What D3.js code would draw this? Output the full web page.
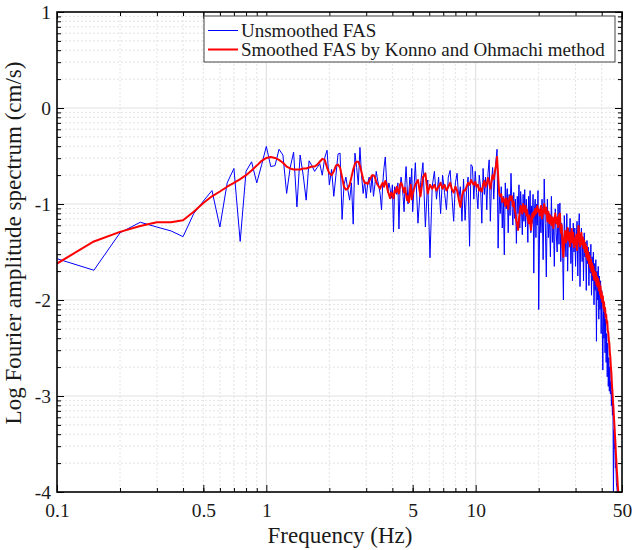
<!DOCTYPE html>
<html>
<head>
<meta charset="utf-8">
<script src="https://cdn.jsdelivr.net/npm/d3@7"></script>
<style>
  body { margin: 0; background: #fff; }
  svg, svg text { font-family: "Liberation Serif", "Times New Roman", serif; }
</style>
</head>
<body>
<svg id="chart" width="634" height="550"></svg>
<script>
// FFT bins are read in three stretches, each with its own spacing (Hz)
const freqStartA = 0.10, freqStepA = 0.05;   // 0.10 .. 4.95
const freqStartB = 5.00, freqStepB = 0.15;   // 5.00 .. 19.85
const freqStartC = 20.00, freqStepC = 0.25;  // 20.00 .. 48.00

// log10 of Fourier amplitude (cm/s)
const unsmoothedA = [
  -1.57, -1.69, -1.30, -1.19, -1.24, -1.28, -1.34, -1.10, -0.97, -0.86,
  -1.24, -0.78, -0.63, -1.39, -0.66, -0.56, -0.78, -0.59, -0.40, -0.61,
  -0.60, -0.43, -0.49, -0.89, -0.62, -0.46, -1.03, -0.49, -0.70, -0.96,
  -0.55, -0.60, -0.66, -0.62, -0.58, -0.70, -0.52, -0.44, -0.80, -0.64,
  -0.92, -0.70, -0.48, -0.47, -1.16, -0.80, -0.72, -0.85, -0.96, -0.78,
  -1.21, -0.47, -0.62, -0.80, -0.41, -0.70, -0.89, -0.76, -0.94, -0.78,
  -0.72, -0.88, -0.70, -0.92, -0.80, -0.66, -0.75, -0.82, -0.90, -1.06,
  -0.78, -0.62, -0.51, -0.75, -0.88, -0.78, -0.84, -0.94, -0.80, -1.29,
  -0.82, -0.86, -0.90, -0.78, -1.26, -0.85, -0.72, -0.80, -0.92, -1.08,
  -0.78, -0.61, -0.80, -1.00, -0.86, -0.72, -0.83, -0.63
];
const unsmoothedB = [
  -1.08, -0.57, -1.20, -0.80, -0.57, -1.24, -0.75, -1.56, -0.82, -0.66,
  -0.95, -0.72, -1.10, -0.70, -0.88, -1.06, -0.72, -0.65, -0.92, -1.18,
  -0.78, -0.68, -0.95, -0.82, -1.18, -0.74, -1.17, -0.86, -0.72, -1.44,
  -0.59, -0.61, -0.95, -0.66, -0.88, -1.05, -0.70, -0.82, -1.20, -0.63,
  -0.90, -0.72, -1.06, -0.68, -0.54, -1.18, -0.78, -0.62, -0.95, -0.70,
  -0.55, -0.43, -1.46, -0.90, -1.10, -0.82, -1.25, -0.92, -1.53, -0.78,
  -1.05, -0.84, -1.30, -0.90, -1.12, -0.68, -1.00, -1.22, -0.88, -1.15,
  -0.95, -1.41, -0.92, -1.10, -0.80, -1.25, -0.87, -1.05, -1.32, -0.90,
  -1.18, -0.85, -1.24, -0.95, -1.10, -1.40, -0.92, -1.15, -0.86, -1.30,
  -1.02, -1.20, -0.90, -1.72, -1.05, -0.95, -1.35, -1.00, -1.22, -0.86
];
const unsmoothedC = [
  -2.10, -1.05, -1.30, -0.95, -1.58, -0.74, -1.20, -1.76, -0.95, -1.35,
  -1.10, -1.55, -0.92, -1.40, -1.15, -1.65, -1.05, -1.30, -1.50, -1.00,
  -1.42, -0.99, -1.60, -1.20, -1.45, -2.00, -1.12, -1.35, -1.55, -1.10,
  -1.70, -1.25, -1.45, -1.15, -1.62, -1.30, -1.80, -1.20, -1.50, -1.25,
  -1.65, -1.35, -1.18, -1.75, -1.30, -1.10, -1.86, -1.40, -1.25, -1.60,
  -1.35, -1.80, -1.30, -1.55, -1.40, -1.90, -1.38, -1.62, -1.45, -1.85,
  -1.50, -1.72, -1.42, -1.95, -1.55, -1.80, -1.50, -2.05, -1.62, -1.90,
  -1.58, -2.43, -1.70, -2.00, -1.65, -2.20, -1.75, -2.10, -1.80, -2.35,
  -1.90, -2.25, -2.73, -2.00, -2.40, -2.10, -2.55, -2.20, -2.65, -2.35,
  -2.80, -2.45, -2.90, -2.60, -2.95, -2.70, -2.98, -2.85, -3.10, -2.95,
  -3.20, -3.05, -4.00, -3.35, -3.55, -3.50, -3.75, -3.70, -3.90, -3.95,
  -4.00
];

const smoothedA = [
  -1.62, -1.39, -1.29, -1.23, -1.19, -1.19, -1.17, -1.08, -0.99, -0.92,
  -0.87, -0.82, -0.78, -0.74, -0.70, -0.65, -0.60, -0.55, -0.52, -0.51,
  -0.52, -0.54, -0.57, -0.61, -0.63, -0.64, -0.64, -0.64, -0.63, -0.63,
  -0.62, -0.61, -0.61, -0.59, -0.56, -0.53, -0.54, -0.62, -0.68, -0.70,
  -0.66, -0.60, -0.59, -0.62, -0.72, -0.82, -0.85, -0.84, -0.80, -0.72,
  -0.64, -0.58, -0.56, -0.56, -0.60, -0.67, -0.74, -0.78, -0.78, -0.79,
  -0.76, -0.73, -0.70, -0.70, -0.72, -0.77, -0.80, -0.82, -0.84, -0.80,
  -0.78, -0.82, -0.76, -0.79, -0.86, -0.90, -0.94, -0.88, -0.90, -0.94,
  -0.86, -0.88, -0.82, -0.86, -0.89, -0.80, -0.78, -0.80, -0.84, -0.88,
  -0.83, -0.90, -0.96, -0.92, -0.98, -0.88, -0.80, -0.95
];
const smoothedB = [
  -0.89, -0.80, -0.75, -0.92, -0.72, -0.68, -0.89, -0.80, -0.84, -0.80,
  -0.86, -0.82, -0.78, -0.84, -0.80, -0.86, -0.82, -0.78, -0.85, -0.88,
  -0.82, -0.86, -0.95, -1.03, -0.92, -0.86, -0.86, -0.82, -0.78, -0.80,
  -0.75, -0.78, -0.80, -0.77, -0.82, -0.80, -0.86, -0.84, -0.87, -0.80,
  -0.76, -0.82, -0.78, -0.73, -0.78, -0.84, -0.76, -0.70, -0.74, -0.66,
  -0.60, -0.51, -0.70, -0.89, -0.92, -0.90, -0.98, -0.94, -0.96, -1.02,
  -0.94, -0.98, -1.05, -0.95, -0.92, -0.96, -0.92, -1.02, -0.98, -1.06,
  -1.10, -1.18, -1.22, -1.27, -1.15, -1.08, -1.02, -1.05, -1.10, -1.00,
  -1.04, -1.08, -1.02, -1.12, -1.06, -1.15, -1.20, -1.12, -1.18, -1.27,
  -1.20, -1.10, -1.14, -1.08, -1.12, -1.05, -1.10, -1.06, -1.02, -1.08
];
const smoothedC = [
  -1.06, -1.12, -1.02, -1.15, -1.08, -1.00, -1.10, -1.04, -1.18, -1.08,
  -1.20, -1.12, -1.22, -1.14, -1.25, -1.16, -1.10, -1.20, -1.14, -1.24,
  -1.12, -1.10, -1.30, -1.22, -1.45, -1.55, -1.35, -1.28, -1.40, -1.32,
  -1.25, -1.38, -1.30, -1.44, -1.34, -1.26, -1.40, -1.30, -1.45, -1.36,
  -1.42, -1.32, -1.48, -1.35, -1.23, -1.32, -1.44, -1.36, -1.30, -1.42,
  -1.35, -1.46, -1.38, -1.50, -1.42, -1.55, -1.45, -1.58, -1.50, -1.62,
  -1.54, -1.66, -1.58, -1.70, -1.62, -1.74, -1.65, -1.78, -1.70, -1.80,
  -1.72, -1.84, -1.76, -1.86, -1.78, -1.90, -1.82, -1.94, -1.86, -1.98,
  -1.92, -2.02, -1.96, -2.08, -2.02, -2.12, -2.08, -2.18, -2.15, -2.24,
  -2.22, -2.32, -2.34, -2.42, -2.45, -2.55, -2.60, -2.70, -2.76, -2.88,
  -2.95, -3.05, -3.12, -3.22, -3.30, -3.40, -3.48, -3.60, -3.68, -3.78,
  -3.85, -3.94, -4.00
];

const xTicks = [0.1, 0.5, 1, 5, 10, 50];
const xTickLabels = ["0.1", "0.5", "1", "5", "10", "50"];
const yTicks = [1, 0, -1, -2, -3, -4];
const yTickLabels = ["1", "0", "-1", "-2", "-3", "-4"];
const seriesNames = ["Unsmoothed FAS", "Smoothed FAS by Konno and Ohmachi method"];
const seriesColors = ["#0000ff", "#ff0000"];

function toPoints(start, step, vals) {
  return vals.map((v, i) => ({ f: +(start + i * step).toFixed(2), v: v }));
}
const rawPts = [].concat(
  toPoints(freqStartA, freqStepA, unsmoothedA),
  toPoints(freqStartB, freqStepB, unsmoothedB),
  toPoints(freqStartC, freqStepC, unsmoothedC));
const smoothPts = [].concat(
  toPoints(freqStartA, freqStepA, smoothedA),
  toPoints(freqStartB, freqStepB, smoothedB),
  toPoints(freqStartC, freqStepC, smoothedC));

const serif = '"Liberation Serif", "Times New Roman", serif';
const pL = 57, pR = 622, pT = 12, pB = 492;
const svg = d3.select("#chart");

const x = d3.scaleLog().domain([0.1, 50]).range([pL, pR]);
const y = d3.scaleLinear().domain([-4, 1]).range([pB, pT]);

// minor positions: x every 1..9 per decade, y log-spaced inside each decade
const xMinor = [];
[0.1, 1, 10].forEach(d => { for (let k = 2; k <= 9; k++) if (d * k < 50) xMinor.push(d * k); });
const yMinor = [];
for (let n = -4; n < 1; n++) for (let k = 2; k <= 9; k++) yMinor.push(n + Math.log10(k));

// grid
const grid = svg.append("g");
grid.selectAll(".gx").data(xMinor).join("line")
  .attr("x1", d => x(d)).attr("x2", d => x(d)).attr("y1", pT).attr("y2", pB)
  .attr("stroke", "#dcdcdc").attr("stroke-dasharray", "2,2").attr("stroke-width", 0.8);
grid.selectAll(".gy").data(yMinor).join("line")
  .attr("y1", d => y(d)).attr("y2", d => y(d)).attr("x1", pL).attr("x2", pR)
  .attr("stroke", "#dcdcdc").attr("stroke-dasharray", "2,2").attr("stroke-width", 0.8);
grid.selectAll(".gxm").data([1, 10]).join("line")
  .attr("x1", d => x(d)).attr("x2", d => x(d)).attr("y1", pT).attr("y2", pB)
  .attr("stroke", "#e2e2e2").attr("stroke-width", 1.2);
grid.selectAll(".gym").data([0, -1, -2, -3]).join("line")
  .attr("y1", d => y(d)).attr("y2", d => y(d)).attr("x1", pL).attr("x2", pR)
  .attr("stroke", "#e2e2e2").attr("stroke-width", 1.2);

// data
svg.append("clipPath").attr("id", "clip").append("rect")
  .attr("x", pL).attr("y", pT).attr("width", pR - pL).attr("height", pB - pT);
const line = d3.line().x(d => x(d.f)).y(d => y(d.v));
const plot = svg.append("g").attr("clip-path", "url(#clip)");
plot.append("path").datum(rawPts).attr("d", line)
  .attr("fill", "none").attr("stroke", seriesColors[0]).attr("stroke-width", 1);
plot.append("path").datum(smoothPts).attr("d", line)
  .attr("fill", "none").attr("stroke", seriesColors[1]).attr("stroke-width", 2)
  .attr("stroke-linejoin", "round");

// axes: ticks point inward on all four sides
function styleAxis(g) {
  g.attr("font-family", null);
  g.select(".domain").remove();
  g.selectAll(".tick line").attr("stroke", "#000").attr("stroke-width", 1);
  g.selectAll("text").attr("fill", "#1a1a1a")
    .style("font-family", serif).style("font-size", "19.5px");
}
svg.append("g").attr("transform", `translate(0,${pB})`)
  .call(d3.axisBottom(x).tickValues(xTicks).tickSize(-7).tickPadding(11)
    .tickFormat((d, i) => xTickLabels[i]))
  .call(styleAxis);
svg.append("g").attr("transform", `translate(0,${pB})`)
  .call(d3.axisBottom(x).tickValues(xMinor).tickSize(-4).tickFormat(""))
  .call(styleAxis);
svg.append("g").attr("transform", `translate(0,${pT})`)
  .call(d3.axisTop(x).tickValues(xTicks).tickSize(-7).tickFormat(""))
  .call(styleAxis);
svg.append("g").attr("transform", `translate(0,${pT})`)
  .call(d3.axisTop(x).tickValues(xMinor).tickSize(-4).tickFormat(""))
  .call(styleAxis);
svg.append("g").attr("transform", `translate(${pL},0)`)
  .call(d3.axisLeft(y).tickValues(yTicks).tickSize(-7).tickPadding(6)
    .tickFormat((d, i) => yTickLabels[i]))
  .call(styleAxis);
svg.append("g").attr("transform", `translate(${pL},0)`)
  .call(d3.axisLeft(y).tickValues(yMinor).tickSize(-4).tickFormat(""))
  .call(styleAxis);
svg.append("g").attr("transform", `translate(${pR},0)`)
  .call(d3.axisRight(y).tickValues(yTicks).tickSize(-7).tickFormat(""))
  .call(styleAxis);
svg.append("g").attr("transform", `translate(${pR},0)`)
  .call(d3.axisRight(y).tickValues(yMinor).tickSize(-4).tickFormat(""))
  .call(styleAxis);

svg.append("rect").attr("x", pL).attr("y", pT)
  .attr("width", pR - pL).attr("height", pB - pT)
  .attr("fill", "none").attr("stroke", "#000").attr("stroke-width", 1.6);

// axis titles
svg.append("text").attr("x", 340).attr("y", 543)
  .attr("text-anchor", "middle").attr("fill", "#1a1a1a")
  .style("font-family", serif).style("font-size", "23px")
  .text("Frequency (Hz)");
svg.append("text").attr("transform", "translate(21,243) rotate(-90)")
  .attr("text-anchor", "middle").attr("fill", "#1a1a1a")
  .style("font-family", serif).style("font-size", "23px")
  .text("Log Fourier amplitude spectrum (cm/s)");

// legend
const lg = svg.append("g");
lg.append("rect").attr("x", 204).attr("y", 16).attr("width", 411).attr("height", 46)
  .attr("fill", "#fff").attr("stroke", "#444").attr("stroke-width", 1);
seriesNames.forEach((name, i) => {
  const ly = 30.5 + i * 19;
  lg.append("line").attr("x1", 208).attr("x2", 238).attr("y1", ly).attr("y2", ly)
    .attr("stroke", seriesColors[i]).attr("stroke-width", i === 0 ? 1 : 2);
  lg.append("text").attr("x", 241).attr("y", ly).attr("dy", "0.34em")
    .attr("fill", "#1a1a1a").style("font-family", serif).style("font-size", "19px")
    .text(name);
});
</script>
</body>
</html>
